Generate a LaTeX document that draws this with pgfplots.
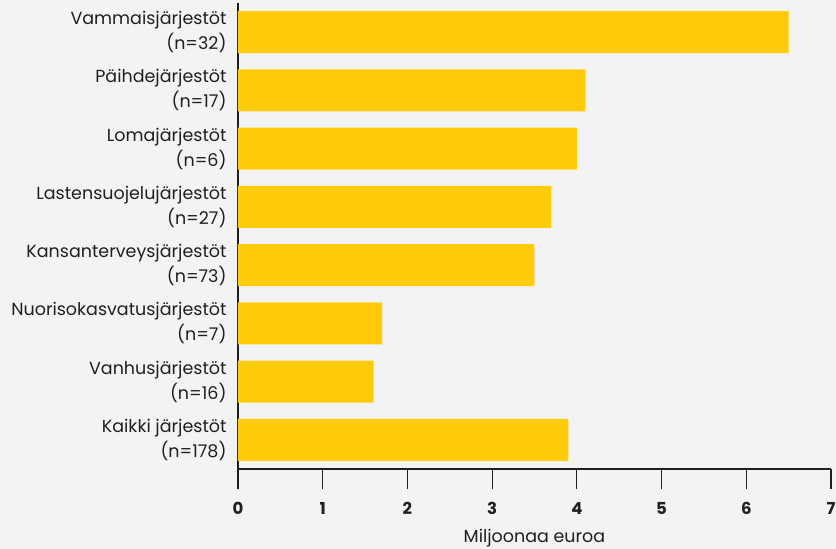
\documentclass[border=0pt]{standalone}
\usepackage{fontspec}
\setmainfont{Poppins}
\usepackage{pgfplots}
\pgfplotsset{compat=1.18}
\definecolor{bg}{HTML}{F2F3F5}
\definecolor{barcol}{HTML}{FFCB0A}
\definecolor{txt}{HTML}{231F20}

\begin{document}
\begin{tikzpicture}
\fill[bg] (-238pt,-80pt) rectangle (598pt,469pt);
\begin{axis}[
    width=593pt, height=466pt, scale only axis,
    xmin=0, xmax=7, ymin=-0.5, ymax=7.5,
    axis x line=bottom, axis y line=left,
    axis line style={-, draw=txt, line width=1.2pt},
    xbar, bar width=42pt,
    xtick={0,...,7}, ytick={0,...,7},
    yticklabels={{Kaikki järjestöt\\(n=178)},{Vanhusjärjestöt\\(n=16)},{Nuorisokasvatusjärjestöt\\(n=7)},{Kansanterveysjärjestöt\\(n=73)},{Lastensuojelujärjestöt\\(n=27)},{Lomajärjestöt\\(n=6)},{Päihdejärjestöt\\(n=17)},{Vammaisjärjestöt\\(n=32)}},
    yticklabel style={align=right, text=txt, xshift=12pt, font=\fontsize{17.5}{25}\selectfont},
    y tick style={draw=none},
    x tick style={draw=txt, line width=1.2pt},
    tick align=outside, major tick length=20pt,
    /pgf/number format/assume math mode=true,
    xticklabel style={text=txt, yshift=-10pt, font=\bfseries\fontsize{16.5}{16}\selectfont},
    xlabel={Miljoonaa euroa},
    xlabel style={text=txt, yshift=-7pt, font=\fontsize{17.5}{17}\selectfont},
]
\addplot[fill=barcol, draw=none] coordinates {(3.9,0) (1.6,1) (1.7,2) (3.5,3) (3.7,4) (4.0,5) (4.1,6) (6.5,7)};
\end{axis}
\pgfresetboundingbox
\path (-238pt,-80pt) rectangle (598pt,469pt);
\end{tikzpicture}
\end{document}
